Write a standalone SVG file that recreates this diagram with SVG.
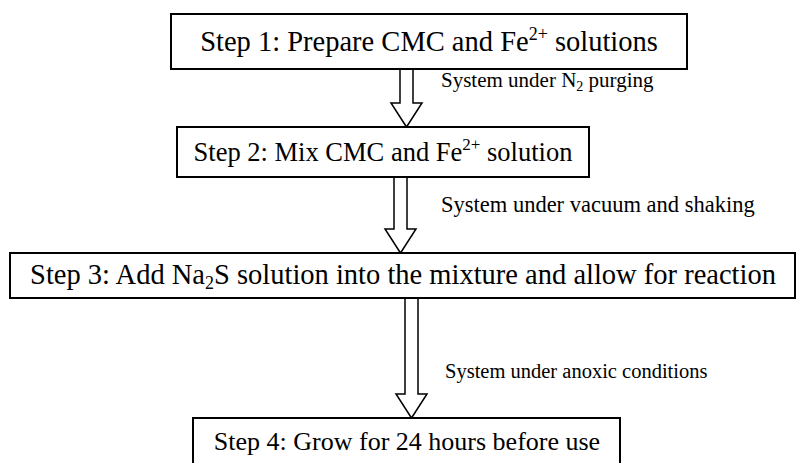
<svg xmlns="http://www.w3.org/2000/svg" width="798" height="463" viewBox="0 0 798 463">
<style>
.box{fill:#fff;stroke:#000;stroke-width:2}
.step{font-family:"Liberation Serif","Times New Roman",serif;fill:#000}
.lbl{font-family:"Liberation Serif","Times New Roman",serif;fill:#000}
.arr{fill:#fff;stroke:#000;stroke-width:1.5;stroke-linejoin:miter}
</style>
<rect width="798" height="463" fill="#fff"/>
<g id="connectors">
<polygon class="arr" points="400,68 413,68 413,103 422,103 406.5,127 391,103 400,103"/>
<polygon class="arr" points="394,177 407,177 407,229 416,229 400.5,253 385,229 394,229"/>
<polygon class="arr" points="405,297 418,297 418,394 427,394 411.5,418 396,394 405,394"/>
<text class="lbl" x="441" y="87" font-size="21">System under N<tspan font-size="14" dy="4">2</tspan><tspan dy="-4"> purging</tspan></text>
<text class="lbl" x="441" y="212" font-size="22.5">System under vacuum and shaking</text>
<text class="lbl" x="445" y="378" font-size="20.5">System under anoxic conditions</text>
</g>
<g id="step1">
<rect class="box" x="171" y="14" width="516" height="55"/>
<text class="step" x="429" y="51" font-size="28.5" text-anchor="middle">Step 1: Prepare CMC and Fe<tspan font-size="18" dy="-11">2+</tspan><tspan dy="11"> solutions</tspan></text>
</g>
<g id="step2">
<rect class="box" x="177" y="127" width="412" height="50"/>
<text class="step" x="383" y="161" font-size="26.5" text-anchor="middle">Step 2: Mix CMC and Fe<tspan font-size="17" dy="-11">2+</tspan><tspan dy="11"> solution</tspan></text>
</g>
<g id="step3">
<rect class="box" x="10" y="253" width="785" height="45"/>
<text class="step" x="403" y="284" font-size="28.5" text-anchor="middle">Step 3: Add Na<tspan font-size="18" dy="5">2</tspan><tspan dy="-5">S solution into the mixture and allow for reaction</tspan></text>
</g>
<g id="step4">
<rect class="box" x="193" y="418" width="427" height="50"/>
<text class="step" x="407" y="450" font-size="26" text-anchor="middle">Step 4: Grow for 24 hours before use</text>
</g>
</svg>
